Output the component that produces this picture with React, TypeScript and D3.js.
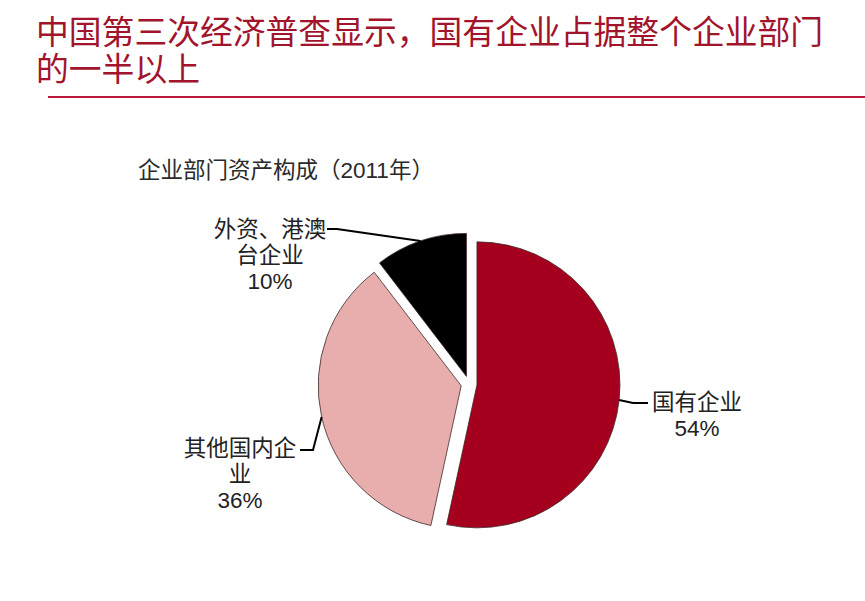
import React from 'react';
import * as d3 from 'd3';

// ---- data ----
const categories = ['国有企业', '其他国内企业', '外资、港澳台企业'];
const shares = [53.4, 36.2, 10.4];
const pctLabels = ['54%', '36%', '10%'];
const labelLines = [['国有企业'], ['其他国内企', '业'], ['外资、港澳', '台企业']];
const titleLines = ['中国第三次经济普查显示，国有企业占据整个企业部门', '的一半以上'];
const subtitle = '企业部门资产构成（2011年）';

// ---- style / layout ----
const colors = ['#A5001E', '#E8AEAE', '#000000'];
const W = 865;
const H = 601;
const cx = 469;
const cy = 384;
const R = 143;
const explode = 8;
const FONT = "'Liberation Sans', 'Noto Sans CJK SC', sans-serif";
const labelLayout = [
  { elbow: [633, 403], end: [648, 403], tx: 697, ty: 410 },
  { elbow: [313, 450], end: [300, 450], tx: 240, ty: 456 },
  { elbow: [337, 229], end: [327, 229], tx: 270, ty: 237 },
];
const lineGap = 26;

export default function App() {
  const data = categories.map((c, i) => ({ c, v: shares[i], i }));
  const pie = d3.pie<any>().sort(null).value((d) => d.v);
  const arcs = pie(data);
  const arcGen = d3.arc<any>().innerRadius(0).outerRadius(R);

  return (
    <svg width={W} height={H} style={{ position: 'absolute', left: 0, top: 0, background: '#fff' }}>
      {titleLines.map((t, i) => (
        <text key={i} x={36} y={44 + i * 37} fontFamily={FONT} fontSize={32.8} fill="#A2142C">
          {t}
        </text>
      ))}
      <line x1={48} x2={865} y1={97} y2={97} stroke="#B8183A" strokeWidth={2} />
      <text x={138} y={178} fontFamily={FONT} fontSize={22.5} fill="#2a2a2a">
        {subtitle}
      </text>
      {arcs.map((a, i) => {
        const mid = (a.startAngle + a.endAngle) / 2;
        const ox = cx + explode * Math.sin(mid);
        const oy = cy - explode * Math.cos(mid);
        const px = ox + R * Math.sin(mid);
        const py = oy - R * Math.cos(mid);
        const L = labelLayout[i];
        return (
          <g key={i}>
            <path
              d={arcGen(a) as string}
              transform={`translate(${ox},${oy})`}
              fill={colors[i]}
              stroke="#3d2a2a"
              strokeWidth={0.8}
            />
            <polyline
              points={`${px},${py} ${L.elbow[0]},${L.elbow[1]} ${L.end[0]},${L.end[1]}`}
              fill="none"
              stroke="#000"
              strokeWidth={2}
            />
          </g>
        );
      })}
      {arcs.map((a, i) => {
        const L = labelLayout[i];
        const lines = [...labelLines[i], pctLabels[i]];
        return (
          <text key={'t' + i} fontFamily={FONT} fontSize={22.5} fill="#222" textAnchor="middle">
            {lines.map((ln, j) => (
              <tspan key={j} x={L.tx} y={L.ty + j * lineGap}>
                {ln}
              </tspan>
            ))}
          </text>
        );
      })}
    </svg>
  );
}
